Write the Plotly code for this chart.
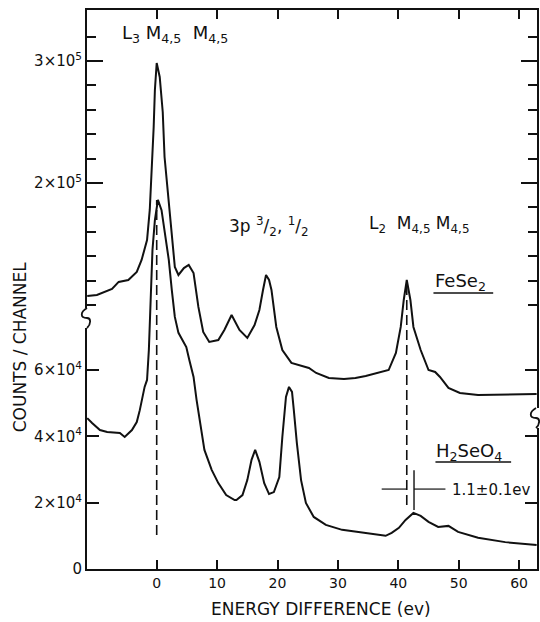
import plotly.graph_objects as go

# ---------------- data ----------------
# FeSe2 spectrum, plotted against the upper (broken) count scale
fese2_ev = [-11.5, -9.9, -7.4, -6.3, -4.7, -3.3, -2.5, -1.6, -1.15, -0.8,
            -0.5, -0.3, 0.0, 0.5, 1.0, 1.3, 2.0, 2.5, 3.0, 3.6,
            4.5, 5.3, 6.1, 6.9, 7.7, 8.7, 10.2, 11.2, 12.4, 13.7,
            15.0, 16.2, 17.0, 17.6, 18.1, 18.6, 19.0, 19.8, 20.8, 22.3,
            25.2, 26.4, 28.5, 31.0, 32.9, 34.6, 37.2, 38.4, 39.6, 40.4,
            40.9, 41.4, 42.0, 42.5, 43.7, 45.0, 46.1, 46.9, 48.3, 50.2,
            53.2, 62.9]
fese2_counts = [107400, 108200, 113100, 118900, 120500, 127100, 136900, 153300, 177900, 210700,
                245900, 276200, 298400, 286900, 258200, 221300, 183600, 153300, 131200, 124600,
                130300, 132800, 126200, 98400, 77900, 69700, 71300, 79500, 91800, 79500,
                73000, 83600, 95900, 112300, 124600, 120500, 112300, 82000, 63100, 52500,
                48400, 44300, 40200, 39300, 40200, 41800, 45100, 46700, 60700, 82000,
                104100, 120500, 104100, 82000, 63100, 46700, 45100, 41000, 32000, 27900,
                26200, 27000]

# H2SeO4 spectrum, plotted against the lower count scale
h2seo4_ev = [-11.5, -10.7, -9.4, -8.2, -6.1, -5.3, -4.1, -3.3, -2.8, -2.5,
             -2.0, -1.6, -1.3, -1.0, -0.7, -0.3, 0.2, 0.8, 1.3, 2.0,
             2.5, 3.0, 3.6, 4.5, 4.9, 5.4, 6.1, 6.6, 7.4, 7.9,
             9.1, 10.2, 11.5, 12.9, 13.2, 14.2, 15.0, 15.7, 16.3, 17.0,
             17.8, 18.6, 19.4, 20.3, 20.8, 21.1, 21.4, 21.9, 22.4, 22.7,
             23.2, 23.9, 24.7, 26.0, 28.0, 30.7, 34.0, 37.9, 38.9, 40.1,
             41.2, 42.5, 43.7, 45.0, 46.6, 48.3, 49.9, 53.2, 57.7, 62.9]
h2seo4_counts = [45500, 44000, 41900, 41300, 41000, 39800, 41900, 44300, 47900, 51000,
                 54900, 57000, 66000, 81100, 96200, 105200, 111300, 108200, 102200, 93200,
                 84100, 76000, 71200, 68400, 66900, 63000, 57900, 51000, 41900, 35900,
                 29900, 25900, 22300, 20800, 20800, 22300, 26800, 32900, 35900, 32300,
                 25900, 22600, 23200, 27700, 39800, 44900, 51900, 54900, 53400, 47900,
                 38000, 26800, 19900, 15700, 13300, 11800, 10900, 10000, 10900, 12400,
                 14800, 16900, 16000, 14200, 12700, 13000, 11200, 9400, 8100, 7200]

x_tick_vals = [0, 10, 20, 30, 40, 50, 60]
x_tick_text = ["0", "10", "20", "30", "40", "50", "60"]
lower_tick_vals = [0, 20000, 40000, 60000]
lower_tick_text = ["0", "2×10<sup>4</sup>", "4×10<sup>4</sup>", "6×10<sup>4</sup>"]
upper_tick_vals = [200000, 300000]
upper_tick_text = ["2×10<sup>5</sup>", "3×10<sup>5</sup>"]
upper_minor_vals = [100000, 120000, 140000, 160000, 180000,
                    220000, 240000, 260000, 280000, 320000]

# reference lines (eV positions, lower-scale counts)
peak_l3 = 0.0
peak_l2_fese2 = 41.4
peak_l2_h2seo4 = 42.6
dash_l3_range = [10250, 111250]
dash_l2_range = [19300, 87100]
shift_bar_range = [17800, 29800]
shift_bar_level = 24100
shift_arm = [37.25, 47.8]

# ---------------- layout geometry (page pixels) ----------------
W, H = 540, 622
L, R, T, B = 87, 539, 10, 569  # plot frame in page pixels
X_RANGE = [-11.54, 62.96]
Y_LOW_RANGE = [0, 168540]
Y_UP_RANGE = [-116400, 341800]

def fx(px):
    return (px - L) / (R - L)

def fy(py):
    return (B - py) / (B - T)

FONT = "DejaVu Sans"
INK = "#111111"

fig = go.Figure()
fig.add_trace(go.Scatter(x=fese2_ev, y=fese2_counts, mode="lines", yaxis="y2",
                         line=dict(color=INK, width=2.0), name="FeSe2", showlegend=False))
fig.add_trace(go.Scatter(x=h2seo4_ev, y=h2seo4_counts, mode="lines", yaxis="y",
                         line=dict(color=INK, width=2.0), name="H2SeO4", showlegend=False))

axis_common = dict(showgrid=False, zeroline=False, showline=True, linecolor=INK,
                   linewidth=2, ticks="inside", tickcolor=INK, tickwidth=2,
                   mirror="ticks")

fig.update_layout(
    width=W, height=H,
    margin=dict(l=L, r=W - R, t=T, b=H - B, pad=0),
    paper_bgcolor="white", plot_bgcolor="white",
    font=dict(family=FONT, color=INK, size=15),
    showlegend=False,
    xaxis=dict(range=X_RANGE, tickvals=x_tick_vals, ticktext=x_tick_text,
               ticklen=9, tickfont=dict(size=14), **axis_common),
    yaxis=dict(range=Y_LOW_RANGE, tickvals=lower_tick_vals, ticktext=lower_tick_text,
               ticklen=12, tickfont=dict(size=15), **axis_common),
    yaxis2=dict(range=Y_UP_RANGE, overlaying="y", side="left", anchor="x",
                tickvals=upper_tick_vals, ticktext=upper_tick_text,
                ticklen=16, tickfont=dict(size=15), **axis_common),
    yaxis3=dict(range=Y_UP_RANGE, overlaying="y", side="left", anchor="x",
                tickvals=upper_minor_vals, showticklabels=False,
                ticklen=9, **axis_common),
)
# empty trace so that the minor-tick axis is drawn
fig.add_trace(go.Scatter(x=[None], y=[None], yaxis="y3", showlegend=False))

shapes = []
# dashed guide lines through peaks
shapes.append(dict(type="line", xref="x", yref="y", x0=peak_l3, x1=peak_l3,
                   y0=dash_l3_range[0], y1=dash_l3_range[1],
                   line=dict(color=INK, width=1.6, dash="10px,5px")))
shapes.append(dict(type="line", xref="x", yref="y", x0=peak_l2_fese2, x1=peak_l2_fese2,
                   y0=dash_l2_range[0], y1=dash_l2_range[1],
                   line=dict(color=INK, width=1.6, dash="10px,5px")))
# shift marker
shapes.append(dict(type="line", xref="x", yref="y", x0=peak_l2_h2seo4, x1=peak_l2_h2seo4,
                   y0=shift_bar_range[0], y1=shift_bar_range[1],
                   line=dict(color=INK, width=1.4)))
shapes.append(dict(type="line", xref="x", yref="y", x0=shift_arm[0], x1=peak_l2_fese2,
                   y0=shift_bar_level, y1=shift_bar_level, line=dict(color=INK, width=1.2)))
shapes.append(dict(type="line", xref="x", yref="y", x0=peak_l2_h2seo4, x1=shift_arm[1],
                   y0=shift_bar_level, y1=shift_bar_level, line=dict(color=INK, width=1.2)))
# underlines of sample names
shapes.append(dict(type="line", xref="paper", yref="paper", x0=fx(435), x1=fx(495),
                   y0=fy(293), y1=fy(293), line=dict(color=INK, width=1.5)))
shapes.append(dict(type="line", xref="paper", yref="paper", x0=fx(437), x1=fx(513),
                   y0=fy(462), y1=fy(462), line=dict(color=INK, width=1.5)))

# axis-break marks
def break_mark(xa, ya, direction):
    shapes.append(dict(type="rect", xref="paper", yref="paper", layer="above",
                       x0=fx(xa - 3), x1=fx(xa + 3), y0=fy(ya + 10), y1=fy(ya - 10),
                       line=dict(width=0), fillcolor="white"))
    d = direction * 7
    pts = [(xa, ya - 10), (xa - d, ya - 6), (xa - d, ya), (xa, ya),
           (xa + d * 0.6, ya), (xa + d * 0.6, ya + 6), (xa, ya + 10)]
    path = "M {:.5f},{:.5f} C {:.5f},{:.5f} {:.5f},{:.5f} {:.5f},{:.5f} C {:.5f},{:.5f} {:.5f},{:.5f} {:.5f},{:.5f}".format(
        *(v for p in pts for v in (fx(p[0]), fy(p[1]))))
    shapes.append(dict(type="path", xref="paper", yref="paper", layer="above",
                       path=path, line=dict(color=INK, width=1.8)))

break_mark(L, 318, 1)
break_mark(R - 1, 418, 1)
fig.update_layout(shapes=shapes)

ann = []
def text(s, px, py, size, xanchor="left", **kw):
    ann.append(dict(text=s, x=fx(px), y=fy(py), xref="paper", yref="paper",
                    showarrow=False, xanchor=xanchor, yanchor="middle",
                    font=dict(size=size, family=FONT, color=INK), **kw))

text("L<sub>3</sub> M<sub>4,5</sub>  M<sub>4,5</sub>", 120, 34, 18)
text("3p <sup>3</sup>/<sub>2</sub>, <sup>1</sup>/<sub>2</sub>", 228, 226, 17)
text("L<sub>2</sub>  M<sub>4,5</sub> M<sub>4,5</sub>", 368, 225, 17)
text("FeSe<sub>2</sub>", 435, 282, 18)
text("H<sub>2</sub>SeO<sub>4</sub>", 436, 452, 18)
text("1.1±0.1ev", 452, 490, 15)
ann.append(dict(text="ENERGY DIFFERENCE (ev)", x=fx(322), y=fy(609), xref="paper", yref="paper",
                showarrow=False, xanchor="center", yanchor="middle",
                font=dict(size=17, family=FONT, color=INK)))
ann.append(dict(text="COUNTS / CHANNEL", x=fx(20), y=fy(347), xref="paper", yref="paper",
                showarrow=False, xanchor="center", yanchor="middle", textangle=-90,
                font=dict(size=17, family=FONT, color=INK)))
fig.update_layout(annotations=ann)

# place the figure at the page origin without scrollbars, no mode bar
fig.write_html("out.html",
               config={"displayModeBar": False},
               post_script="document.body.style.margin='0';"
                           "document.body.style.overflow='hidden';"
                           "document.documentElement.style.overflow='hidden';")
